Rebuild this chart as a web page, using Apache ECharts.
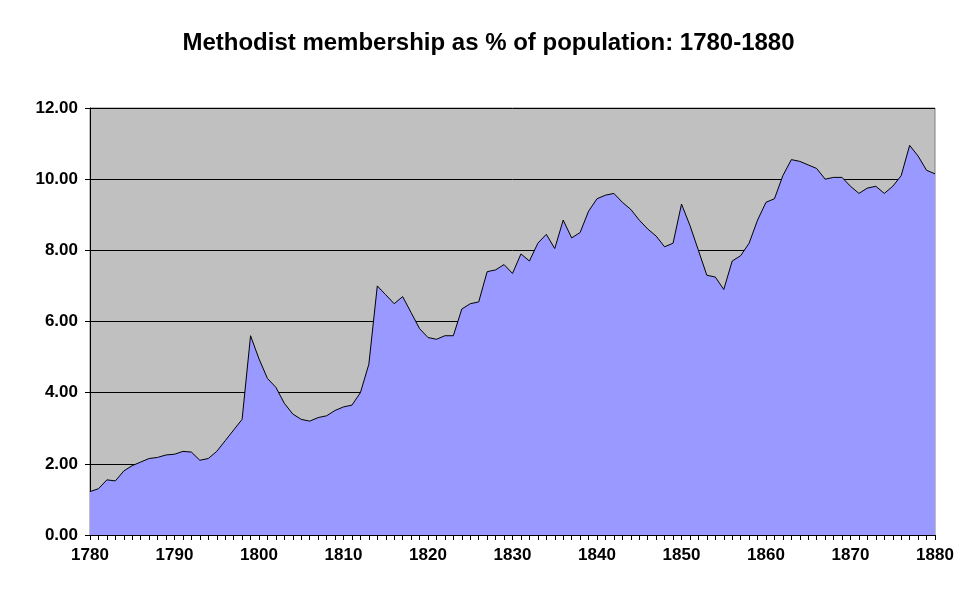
<!DOCTYPE html>
<html><head><meta charset="utf-8">
<script src="https://cdn.jsdelivr.net/npm/echarts@6/dist/echarts.min.js"></script>
<style>html,body{margin:0;background:#fff}#c{width:977px;height:600px}</style>
</head><body><div id="c"></div>
<script>
const years = [];
for (let y = 1780; y <= 1880; y++) years.push(String(y));
const membership = [1.22,1.3,1.55,1.52,1.8,1.95,2.05,2.15,2.18,2.25,
2.27,2.35,2.33,2.1,2.15,2.35,2.65,2.95,3.25,5.6,
4.95,4.4,4.15,3.7,3.4,3.25,3.2,3.3,3.35,3.5,
3.6,3.65,4.0,4.8,7.0,6.75,6.5,6.7,6.25,5.8,
5.55,5.5,5.6,5.6,6.35,6.5,6.55,7.4,7.45,7.6,
7.35,7.9,7.7,8.2,8.45,8.05,8.85,8.35,8.5,9.1,
9.45,9.55,9.6,9.35,9.15,8.85,8.6,8.4,8.1,8.2,
9.3,8.7,8.0,7.3,7.25,6.9,7.7,7.85,8.2,8.85,
9.35,9.45,10.1,10.55,10.5,10.4,10.3,10.0,10.05,10.05,
9.8,9.6,9.75,9.8,9.6,9.8,10.1,10.95,10.65,10.25,10.15];
const chart = echarts.init(document.getElementById('c'));
chart.setOption({
  animation:false,
  title:{text:'Methodist membership as % of population: 1780-1880',left:'center',top:26,
    textStyle:{fontFamily:'Liberation Sans, Arial',fontSize:24,fontWeight:'bold',color:'#000'}},
  grid:{left:90,right:42,top:108,bottom:65,backgroundColor:'#c0c0c0',show:true,borderColor:'#808080',borderWidth:1},
  xAxis:{type:'category',data:years,boundaryGap:false,
    axisLine:{lineStyle:{color:'#000'}},
    axisTick:{interval:0,length:5,lineStyle:{color:'#000'}},
    axisLabel:{interval:9,color:'#000',fontFamily:'Liberation Sans, Arial',fontSize:17,fontWeight:'bold',margin:12},
    splitLine:{show:false}},
  yAxis:{type:'value',min:0,max:12,interval:2,
    axisLine:{show:true,lineStyle:{color:'#000'}},
    axisTick:{show:true,length:5,lineStyle:{color:'#000'}},
    axisLabel:{color:'#000',fontFamily:'Liberation Sans, Arial',fontSize:17,fontWeight:'bold',margin:12,formatter:v=>v.toFixed(2)},
    splitLine:{lineStyle:{color:'#000',width:1}}},
  series:[{type:'line',data:membership,symbol:'none',
    lineStyle:{color:'#000',width:1},
    areaStyle:{color:'#9999ff',opacity:1}}]
});
</script></body></html>
